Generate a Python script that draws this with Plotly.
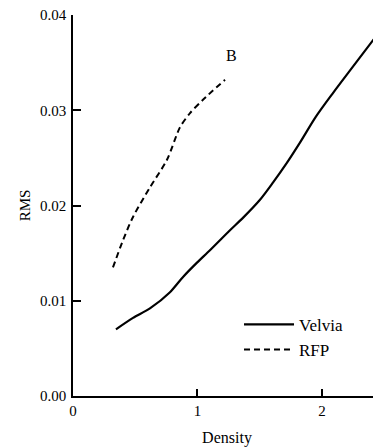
import plotly.graph_objects as go

velvia_density = [0.345, 0.482, 0.618, 0.779, 0.884, 0.996, 1.100, 1.261, 1.365, 1.502, 1.606,
                  1.719, 1.823, 1.95, 2.088, 2.25, 2.442]
velvia_rms = [0.0070, 0.0082, 0.0092, 0.0109, 0.0125, 0.0140, 0.0153, 0.0174, 0.0187, 0.0206, 0.0224,
              0.0245, 0.0266, 0.0293, 0.0318, 0.0346, 0.0379]

rfp_density = [0.321, 0.40, 0.482, 0.618, 0.755, 0.859, 0.940, 1.044, 1.221]
rfp_rms = [0.0135, 0.0163, 0.0188, 0.0219, 0.0248, 0.0282, 0.0297, 0.0311, 0.0332]

x_ticks = [0, 1, 2]
y_ticks = [0.00, 0.01, 0.02, 0.03, 0.04]
y_tick_labels = ["0.00", "0.01", "0.02", "0.03", "0.04"]

font_family = "Liberation Serif, Times New Roman, serif"

fig = go.Figure()
fig.add_trace(go.Scatter(x=velvia_density, y=velvia_rms, mode="lines", name="Velvia",
                         line=dict(color="black", width=2.2, shape="spline", smoothing=0.8)))
fig.add_trace(go.Scatter(x=rfp_density, y=rfp_rms, mode="lines", name="RFP",
                         line=dict(color="black", width=2, dash="6px,4px", shape="spline", smoothing=0.8)))

fig.add_annotation(x=1.277, y=0.0358, text="B", showarrow=False,
                   font=dict(family=font_family, size=16, color="black"))

fig.update_layout(
    width=373, height=439,
    margin=dict(l=65, r=0, t=7, b=51, autoexpand=False),
    paper_bgcolor="white", plot_bgcolor="white",
    font=dict(family=font_family, size=15, color="black"),
    showlegend=True,
    legend=dict(x=0.539, y=0.234, xanchor="left", yanchor="top",
                bgcolor="rgba(0,0,0,0)", font=dict(family=font_family, size=17),
                tracegroupgap=0, itemwidth=50),
    xaxis=dict(range=[0, 2.474], tickvals=x_ticks, ticks="inside", ticklen=7,
               tickcolor="black", tickwidth=1.5, showline=True, linecolor="black", linewidth=1.5,
               showgrid=False, zeroline=False, mirror=False, automargin=False,
               ticklabeloverflow="allow",
               title=dict(text="Density", standoff=21, font=dict(size=16)),
               tickfont=dict(size=15)),
    yaxis=dict(range=[0, 0.04], tickvals=y_ticks, ticktext=y_tick_labels,
               ticks="inside", ticklen=8, tickcolor="black", tickwidth=1.5,
               showline=True, linecolor="black", linewidth=1.5,
               showgrid=False, zeroline=False, automargin=False, ticklabelstandoff=2,
               ticklabeloverflow="allow",
               title=dict(text="RMS", standoff=6, font=dict(size=15)),
               tickfont=dict(size=15)),
)

fig.write_html("out.html")
